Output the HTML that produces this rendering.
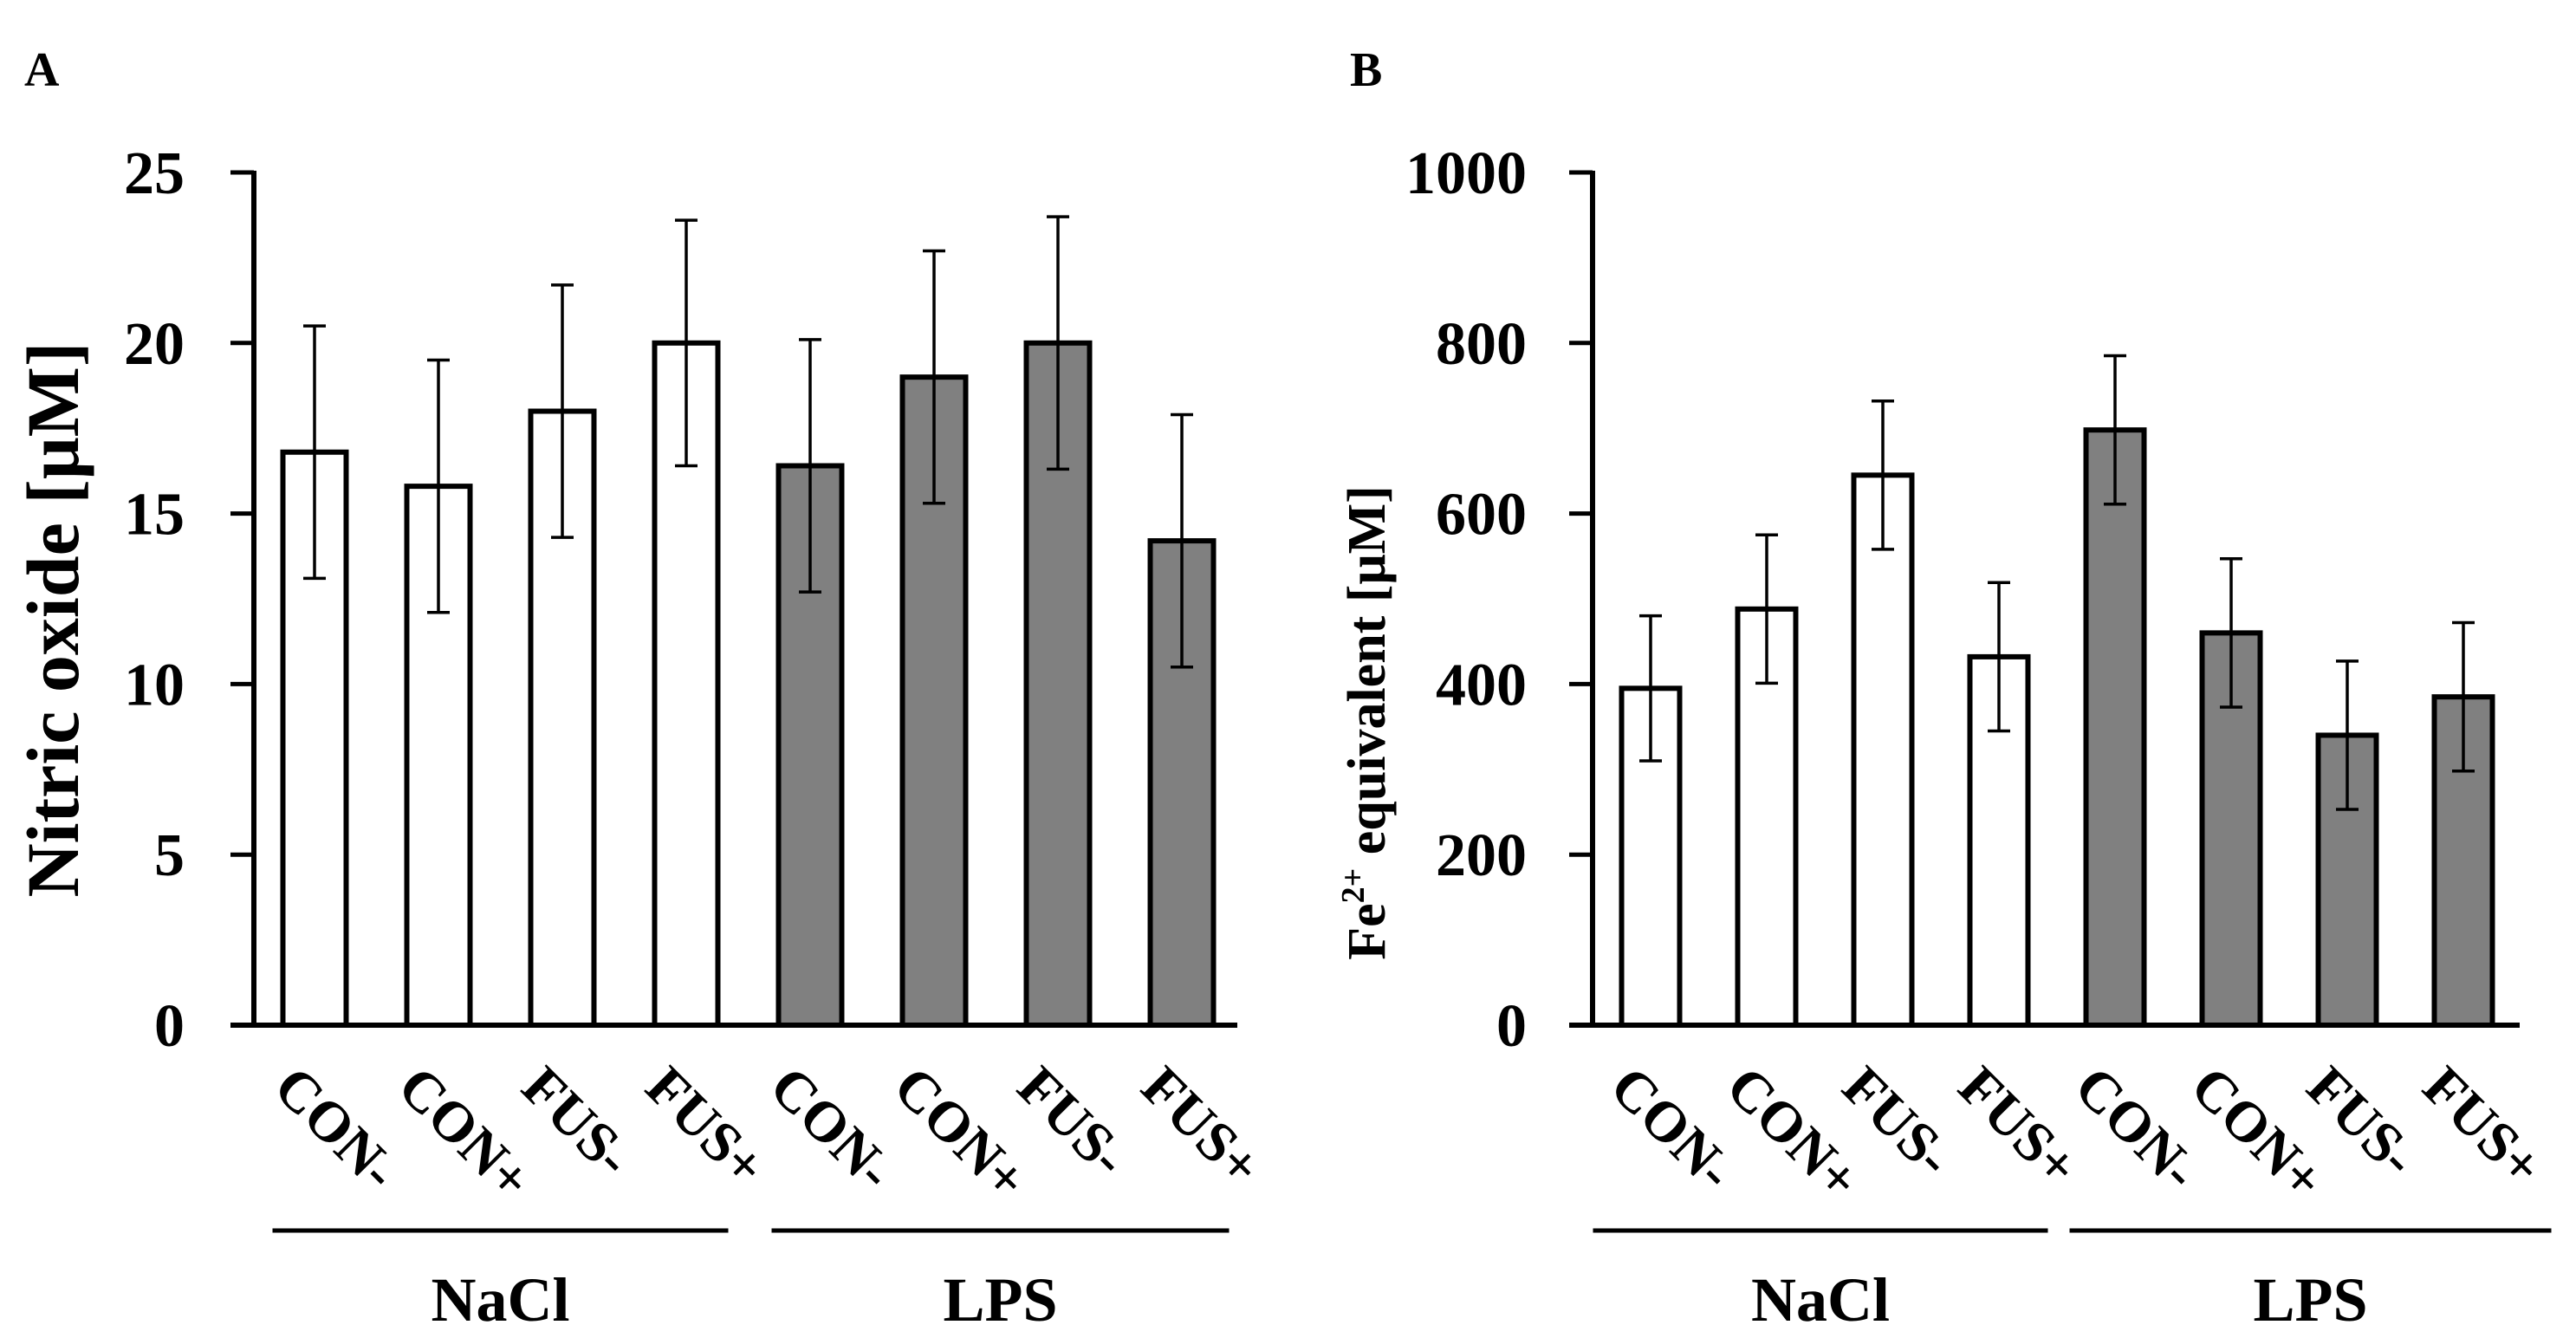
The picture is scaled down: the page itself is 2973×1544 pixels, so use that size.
<!DOCTYPE html>
<html><head><meta charset="utf-8"><style>
html,body{margin:0;padding:0;background:#fff;}
svg text{font-family:"Liberation Serif",serif;font-weight:bold;fill:#000;}
</style></head><body>
<svg id="chart" width="2973" height="1539" viewBox="0 0 2973 1539" xmlns="http://www.w3.org/2000/svg">
<text x="28" y="99" font-size="56">A</text>
<text x="1558" y="99" font-size="56">B</text>
<g id="pa"></g>
<g id="pb"></g>
</svg>
<script>
const categories = ["CON-","CON+","FUS-","FUS+","CON-","CON+","FUS-","FUS+"];
const groupNames = ["NaCl","LPS"];
const valuesA = [16.8, 15.8, 18.0, 20.0, 16.4, 19.0, 20.0, 14.2];
const errorsA = [3.7, 3.7, 3.7, 3.6, 3.7, 3.7, 3.7, 3.7];
const ticksA = [0, 5, 10, 15, 20, 25];
const valuesB = [395, 488, 645, 432, 698, 460, 340, 385];
const errorsB = [85, 87, 87, 87, 87, 87, 87, 87];
const ticksB = [0, 200, 400, 600, 800, 1000];

const NS = "http://www.w3.org/2000/svg";
function mk(parent, tag, attrs, txt){
  const e = document.createElementNS(NS, tag);
  for (const k in attrs) e.setAttribute(k, attrs[k]);
  if (txt !== undefined) e.textContent = txt;
  parent.appendChild(e);
  return e;
}
function draw(g, cfg, values, errors, ticks){
  const y = v => cfg.y0 - (v - ticks[0]) / (ticks[ticks.length-1] - ticks[0]) * (cfg.y0 - cfg.yTop);
  const x = i => cfg.c0 + i * cfg.step;
  ticks.forEach(t => {
    const tk = mk(g, "line", {x1: cfg.ax - 27, x2: cfg.ax, y1: y(t), y2: y(t), stroke: "#000", "stroke-width": 5});
    
    
    const tl = mk(g, "text", {x: cfg.labR, y: y(t) + 24, "font-size": 70, "text-anchor": "end"}, String(t));
    
    
  });
  values.forEach((v, i) => {
    const b = mk(g, "rect", {x: x(i) - cfg.bw/2, y: y(v), width: cfg.bw, height: cfg.y0 - y(v), fill: i < 4 ? "#fff" : "#808080", stroke: "#000", "stroke-width": 6});
    
    
  });
  values.forEach((v, i) => {
    const eg = mk(g, "g", {stroke: "#000", "stroke-width": 3.5});
    
    
    mk(eg, "line", {x1: x(i), x2: x(i), y1: y(v - errors[i]), y2: y(v + errors[i])});
    mk(eg, "line", {x1: x(i) - 13, x2: x(i) + 13, y1: y(v - errors[i]), y2: y(v - errors[i])});
    mk(eg, "line", {x1: x(i) - 13, x2: x(i) + 13, y1: y(v + errors[i]), y2: y(v + errors[i])});
  });
  const ya = mk(g, "line", {x1: cfg.ax, x2: cfg.ax, y1: cfg.yTop - 2, y2: cfg.y0 + 2, stroke: "#000", "stroke-width": 6});
  
  
  const xa = mk(g, "line", {x1: cfg.ax - 27, x2: cfg.xEnd, y1: cfg.y0, y2: cfg.y0, stroke: "#000", "stroke-width": 6});
  
  
  categories.forEach((c, i) => {
    const px = x(i) - 50, py = 1258;
    const t = mk(g, "text", {x: px, y: py, "font-size": 66, transform: `rotate(45 ${px} ${py})`}, c);
    
    
  });
  [[0,3],[4,7]].forEach((r, gi) => {
    const x1 = x(r[0]) - cfg.bw/2 - cfg.gl[gi], x2 = x(r[1]) + cfg.bw/2 + cfg.gr[gi];
    const l = mk(g, "line", {x1: x1, x2: x2, y1: 1420, y2: 1420, stroke: "#000", "stroke-width": 5});
    
    
    const t = mk(g, "text", {x: (x1 + x2) / 2, y: 1524, "font-size": 72, "text-anchor": "middle"}, groupNames[gi]);
    
    
  });
  const tt = mk(g, "text", {x: cfg.titleX, y: cfg.titleY, "font-size": cfg.titleSize, "text-anchor": "middle", transform: `rotate(-90 ${cfg.titleX} ${cfg.titleY})`});
  
  
  cfg.title(tt);
}
draw(document.getElementById('pa'),
  {y0: 1183, yTop: 199, ax: 293, c0: 363, step: 143, bw: 73, xEnd: 1428, labR: 213, gl: [12, 8], gr: [12, 18],
   titleX: 90, titleY: 715, titleSize: 86,
   title: t => { t.textContent = "Nitric oxide [\u03bcM]"; }},
  valuesA, errorsA, ticksA);
draw(document.getElementById('pb'),
  {y0: 1183, yTop: 199, ax: 1838, c0: 1905, step: 134, bw: 67, xEnd: 2908, labR: 1762, gl: [33, 19], gr: [23, 68],
   titleX: 1598, titleY: 834, titleSize: 62,
   title: t => {
     const a = document.createElementNS(NS, "tspan"); a.textContent = "Fe"; t.appendChild(a);
     const s = document.createElementNS(NS, "tspan"); s.setAttribute("font-size", "38"); s.setAttribute("dy", "-24"); s.textContent = "2+"; t.appendChild(s);
     const r = document.createElementNS(NS, "tspan"); r.setAttribute("dy", "24"); r.textContent = " equivalent [\u03bcM]"; t.appendChild(r);
   }},
  valuesB, errorsB, ticksB);
</script>
</body></html>
